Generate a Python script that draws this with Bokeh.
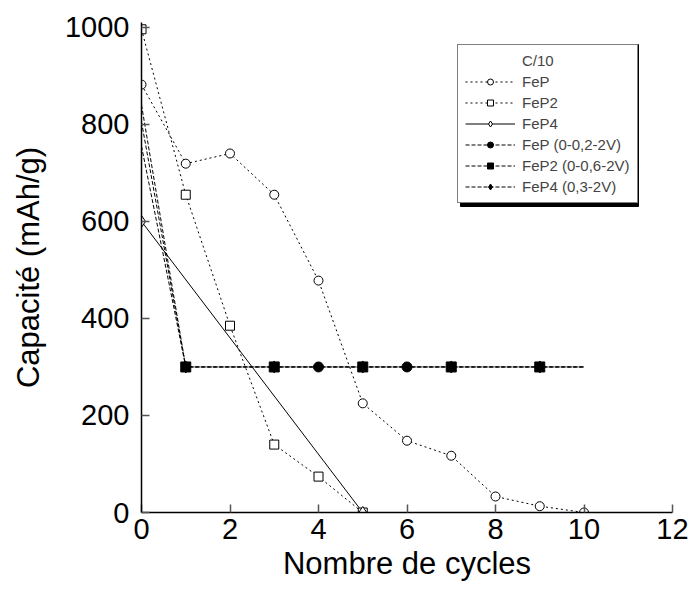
from bokeh.plotting import figure
from bokeh.models import Range1d, FixedTicker, Legend, LegendItem
from bokeh.embed import file_html
from bokeh.resources import INLINE

# ---- data ----
x_fep = [0, 1, 2, 3, 4, 5, 6, 7, 8, 9, 10]
y_fep = [882, 719, 740, 655, 478, 225, 148, 117, 33, 13, 0]

x_fep2 = [0, 1, 2, 3, 4, 5]
y_fep2 = [996, 655, 385, 140, 74, 0]

x_fep4 = [0, 5]
y_fep4 = [600, 0]

x_black = [0, 1, 2, 3, 4, 5, 6, 7, 8, 9, 10]
y_fep_b = [840, 300, 300, 300, 300, 300, 300, 300, 300, 300, 300]
y_fep2_b = [805, 300, 300, 300, 300, 300, 300, 300, 300, 300, 300]
y_fep4_b = [755, 300, 300, 300, 300, 300, 300, 300, 300, 300, 300]

xm_fep_b = [4, 6]
ym_fep_b = [300, 300]
xm_fep2_b = [1, 3, 5, 7, 9]
ym_fep2_b = [300, 300, 300, 300, 300]
xm_fep4_b = [1, 3, 5, 7, 9]
ym_fep4_b = [300, 300, 300, 300, 300]

x_ticks = [0, 2, 4, 6, 8, 10, 12]
y_ticks = [0, 200, 400, 600, 800, 1000]

legend_title = "C/10"
labels = ["FeP", "FeP2", "FeP4", "FeP (0-0,2-2V)", "FeP2 (0-0,6-2V)", "FeP4 (0,3-2V)"]

FONT = "Liberation Sans"

# ---- layout (pixels) ----
W, H = 690, 589
BL, BR, BT, BB = 141, 18, 22, 77
FW, FH = W - BL - BR, H - BT - BB
X0, X1, Y0, Y1 = 0, 12, 0, 1010
LEG_X, LEG_Y = 316, 309          # legend bottom-left inside frame (px)
LEG_W, LEG_H = 178, 162          # legend box size (px), for the shadow
SH = 3                           # shadow offset (px)

p = figure(width=W, height=H, output_backend="svg", toolbar_location=None,
           x_range=Range1d(X0, X1), y_range=Range1d(Y0, Y1),
           min_border_left=BL, min_border_top=BT, min_border_bottom=BB, min_border_right=BR)
p.outline_line_color = None
p.xgrid.visible = False
p.ygrid.visible = False
p.background_fill_color = "white"
p.border_fill_color = "white"

for ax in (p.xaxis[0], p.yaxis[0]):
    ax.major_tick_in = 8
    ax.major_tick_out = 0
    ax.minor_tick_line_color = None
    ax.axis_line_width = 1.5
    ax.major_tick_line_width = 1.5
    ax.axis_line_color = "black"
    ax.major_tick_line_color = "#555555"
    ax.major_label_text_font = FONT
    ax.major_label_text_font_size = "29px"
    ax.major_label_text_color = "black"
    ax.axis_label_text_font = FONT
    ax.axis_label_text_font_size = "31px"
    ax.axis_label_text_font_style = "normal"
    ax.axis_label_text_color = "black"

p.xaxis.ticker = FixedTicker(ticks=x_ticks)
p.yaxis.ticker = FixedTicker(ticks=y_ticks)
p.xaxis.axis_label = "Nombre de cycles"
p.yaxis.axis_label = "Capacité (mAh/g)"
p.xaxis.major_label_standoff = 6
p.yaxis.major_label_standoff = 12
p.xaxis.axis_label_standoff = 4
p.yaxis.axis_label_standoff = 16

DOT = "2 3"
DASH = "4 2"

# legend shadow (decoration), converted from pixels to data units
sx = (X1 - X0) / FW
sy = (Y1 - Y0) / FH
p.quad(left=[(LEG_X + SH) * sx], right=[(LEG_X + LEG_W + SH) * sx],
       bottom=[(LEG_Y - SH) * sy], top=[(LEG_Y + LEG_H - SH) * sy],
       fill_color="black", line_color="black", level="overlay")

# black series (lines)
lb1 = p.line(x_black, y_fep_b, line_color="black", line_width=1, line_dash=DASH)
lb2 = p.line(x_black, y_fep2_b, line_color="black", line_width=1, line_dash=DASH)
lb3 = p.line(x_black, y_fep4_b, line_color="black", line_width=1, line_dash=DASH)

# open series
l1 = p.line(x_fep, y_fep, line_color="black", line_width=1, line_dash=DOT)
l2 = p.line(x_fep2, y_fep2, line_color="black", line_width=1, line_dash=DOT)
l3 = p.line(x_fep4, y_fep4, line_color="black", line_width=1)

s1 = p.scatter(x_fep, y_fep, marker="circle", size=9, fill_color="white", line_color="black", line_width=1)
s2 = p.scatter(x_fep2, y_fep2, marker="square", size=9, fill_color="white", line_color="black", line_width=1)
s3 = p.scatter(x_fep4, y_fep4, marker="diamond", size=12, fill_color="white", line_color="black", line_width=1)

sb3 = p.scatter(xm_fep4_b, ym_fep4_b, marker="diamond", size=12, fill_color="black", line_color="black")
sb1 = p.scatter(xm_fep_b, ym_fep_b, marker="circle", size=10, fill_color="black", line_color="black")
sb2 = p.scatter(xm_fep2_b, ym_fep2_b, marker="square", size=10, fill_color="black", line_color="black")

# invisible renderer for the legend heading row
title_r = p.line([], [], line_alpha=0)

items = [
    LegendItem(label=legend_title, renderers=[title_r]),
    LegendItem(label=labels[0], renderers=[l1, s1]),
    LegendItem(label=labels[1], renderers=[l2, s2]),
    LegendItem(label=labels[2], renderers=[l3, s3]),
    LegendItem(label=labels[3], renderers=[lb1, sb1]),
    LegendItem(label=labels[4], renderers=[lb2, sb2]),
    LegendItem(label=labels[5], renderers=[lb3, sb3]),
]
legend = Legend(items=items, location=(LEG_X, LEG_Y),
                label_text_font=FONT, label_text_font_size="15px",
                glyph_width=50, glyph_height=15, label_standoff=7, spacing=4,
                padding=7, margin=0, border_line_color="black", border_line_width=1.5,
                background_fill_alpha=1, label_height=15)
p.add_layout(legend, "center")

open("out.html", "w").write(file_html(p, INLINE))
